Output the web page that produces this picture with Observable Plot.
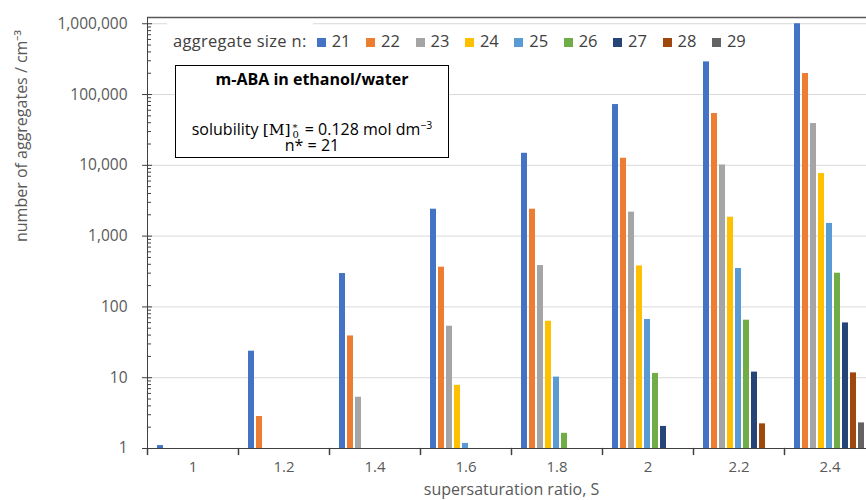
<!DOCTYPE html>
<html><head><meta charset="utf-8">
<script src="https://cdn.jsdelivr.net/npm/d3@7"></script>
<script src="https://cdn.jsdelivr.net/npm/@observablehq/plot@0.6"></script>
<style>
html,body{margin:0;padding:0;overflow:hidden;background:#fff;}
#wrap{position:relative;width:866px;height:500px;overflow:hidden;font-family:"Open Sans",sans-serif;}
#wrap svg{position:absolute;left:0;top:0;max-width:none !important;}
.lt{position:absolute;font-size:16.5px;line-height:16px;color:#404040;white-space:nowrap;}
#legtitle{position:absolute;left:167px;top:20px;width:146px;height:34px;background:#fff;}
.sw{position:absolute;width:9px;height:9px;}
#box{position:absolute;left:175px;top:65px;width:272px;height:91px;border:1px solid #000;background:#fff;color:#000;}
#box .ln{position:absolute;left:0;width:100%;text-align:center;font-size:16px;line-height:16px;white-space:nowrap;}
.serif{font-family:"DejaVu Serif","Liberation Serif",serif;font-size:15.5px;}
.stk{position:relative;display:inline-block;width:10px;height:0;}
.stk span{position:absolute;left:2px;font-size:10px;line-height:8px;font-family:"DejaVu Serif",serif;}
sup.e{font-size:10.5px;vertical-align:6px;line-height:0;}
</style></head>
<body><div id="wrap"></div>
<script>
const ratios = ["1", "1.2", "1.4", "1.6", "1.8", "2", "2.2", "2.4"];
const sizes = [21, 22, 23, 24, 25, 26, 27, 28, 29];
const colors = ["#4472C4", "#ED7D31", "#A5A5A5", "#FFC000", "#5B9BD5", "#70AD47", "#264478", "#9E480E", "#636363"];
const n21 = [1.1, 23.7, 296, 2400, 14800, 72200, 289000, 1000000];
const n22 = [null, 2.83, 38.9, 364, 2400, 12600, 53900, 198000];
const n23 = [null, null, 5.3, 53.4, 384, 2180, 10100, 38900];
const n24 = [null, null, null, 7.8, 62.8, 379, 1850, 7660];
const n25 = [null, null, null, 1.18, 10.2, 66.4, 349, 1510];
const n26 = [null, null, null, null, 1.64, 11.5, 64.9, 299];
const n27 = [null, null, null, null, null, 2.05, 12.0, 59.4];
const n28 = [null, null, null, null, null, null, 2.23, 11.7];
const n29 = [null, null, null, null, null, null, null, 2.30];
const yTicks = [1, 10, 100, 1000, 10000, 100000, 1000000];
const yLabel = "number of aggregates / cm⁻³";
const xLabel = "supersaturation ratio, S";
const legendTitle = "aggregate size n:";
const boxTitle = "m-ABA in ethanol/water";

const series = [n21, n22, n23, n24, n25, n26, n27, n28, n29];
const rows = [];
series.forEach((vals, j) => vals.forEach((v, i) => {
  if (v != null) rows.push({S: ratios[i], n: sizes[j], v});
}));
const minorTicks = d3.range(0, 6).flatMap(e => d3.range(2, 10).map(k => k * 10 ** e));
const yTop = 1.225e6;
const axisColor = "#404040";

const chart = Plot.plot({
  width: 878, height: 505,
  marginLeft: 144, marginRight: 0, marginTop: 17, marginBottom: 57,
  style: {fontFamily: "Open Sans", fontSize: "15px", color: "#595959", background: "transparent", overflow: "visible", maxWidth: "none"},
  fx: {domain: ratios, padding: 0, label: null},
  x: {domain: sizes, paddingInner: 0.22, paddingOuter: 0.88, axis: null},
  y: {type: "log", domain: [1, yTop]},
  color: {domain: sizes, range: colors},
  marks: [
    Plot.gridY(yTicks, {stroke: "#d9d9d9", strokeOpacity: 1}),
    Plot.barY(rows, {fx: "S", x: "n", y1: 1, y2: "v", fill: "n"}),
    Plot.ruleY([1], {stroke: axisColor}),
    Plot.ruleY([yTop], {stroke: "#595959", strokeWidth: 1.5}),
    Plot.frame({anchor: "left", facetAnchor: "left", stroke: axisColor}),
    Plot.axisY(yTicks, {tickSize: 5, tickPadding: 15, tickFormat: d3.format(","), stroke: axisColor, fill: "#595959",
      fontSize: 15.5, label: null}),
    Plot.axisY(yTicks, {tickSize: -5, fill: "none", label: null, stroke: axisColor}),
    Plot.axisY(minorTicks, {tickSize: -4, fill: "none", label: null, stroke: axisColor}),
    Plot.axisFx({anchor: "bottom", tickSize: 0, tickPadding: 13, fill: "#595959", label: null}),
    Plot.text([yLabel], {frameAnchor: "left", dx: -132, dy: 9, rotate: -90, lineAnchor: "top", fontSize: 16, fill: "#595959", facetAnchor: "left"}),
    Plot.text([xLabel], {frameAnchor: "bottom", dy: 35, lineAnchor: "top", fontSize: 16, fill: "#595959", facet: "super"}),
    Plot.vector([0], {frameAnchor: "bottom-left", length: 6, rotate: 180, anchor: "start", stroke: axisColor,
      shape: {draw(ctx, l) { ctx.moveTo(0, 0); ctx.lineTo(0, -l); }}})
  ]
});
chart.style.maxWidth = "none";
chart.style.height = "505px";
chart.style.width = "878px";

const wrap = document.getElementById("wrap");
wrap.appendChild(chart);

// legend (inside plot area)
const lt = document.createElement("div");
lt.id = "legtitle";
lt.innerHTML = `<div class="lt" style="left:6px;top:13px;letter-spacing:0.3px">${legendTitle}</div>`;
wrap.appendChild(lt);
sizes.forEach((s, i) => {
  const x = 316.7 + i * 49.4;
  const sw = document.createElement("div");
  sw.className = "sw";
  sw.style.left = x + "px"; sw.style.top = "38.3px"; sw.style.background = colors[i];
  wrap.appendChild(sw);
  const t = document.createElement("div");
  t.className = "lt";
  t.style.left = (x + 15) + "px"; t.style.top = "33px";
  t.textContent = s;
  wrap.appendChild(t);
});

// annotation box
const box = document.createElement("div");
box.id = "box";
box.innerHTML = `
<div class="ln" style="top:5px;font-weight:bold">${boxTitle}</div>
<div class="ln" style="top:56px;line-height:14px">solubility <span class="serif">[M]</span><span class="stk"><span style="top:-11px">*</span><span style="top:-4px">0</span></span> = 0.128 mol dm<sup class="e">−3</sup></div>
<div class="ln" style="top:74px;line-height:10px">n* = 21</div>`;
wrap.appendChild(box);
</script>
</body></html>
